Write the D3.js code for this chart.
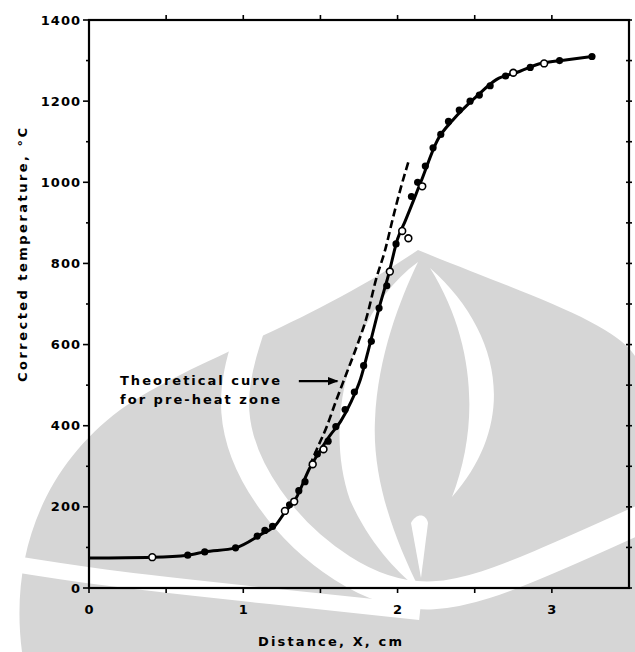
<!DOCTYPE html>
<html>
<head>
<meta charset="utf-8">
<script src="https://cdn.jsdelivr.net/npm/d3@7"></script>
<style>
  body { margin: 0; background: #fff; }
  text { font-family: "DejaVu Sans", sans-serif; font-weight: bold; fill: #000; }
</style>
</head>
<body>
<div id="chart"></div>
<script>
// experimental (fitted) curve through the measured points
const fitX = [0, 0.41, 0.64, 0.75, 0.95, 1.11, 1.21, 1.27, 1.34, 1.43, 1.50, 1.56, 1.63, 1.70, 1.76, 1.82, 1.88, 1.94, 2.00, 2.05, 2.15, 2.26, 2.36, 2.51, 2.64, 2.79, 2.92, 3.10, 3.26];
const fitT = [74, 76, 81, 89, 99, 131, 155, 187, 220, 295, 340, 375, 410, 460, 515, 600, 690, 770, 860, 905, 1000, 1105, 1154, 1211, 1253, 1273, 1292, 1302, 1310];

// theoretical curve for pre-heat zone (dashed)
const theoryX = [1.43, 1.48, 1.54, 1.60, 1.67, 1.74, 1.80, 1.86, 1.92, 1.97, 2.02, 2.07];
const theoryT = [300, 345, 397, 460, 530, 600, 668, 760, 834, 912, 985, 1050];

// measured points, filled and open markers
const obsX = [0.64, 0.75, 0.95, 1.09, 1.14, 1.19, 1.30, 1.36, 1.40, 1.48, 1.55, 1.60, 1.66, 1.72, 1.78, 1.83, 1.88, 1.93, 1.99, 2.09, 2.13, 2.18, 2.23, 2.28, 2.33, 2.40, 2.47, 2.53, 2.60, 2.70, 2.86, 3.05, 3.26];
const obsT = [81, 89, 99, 128, 142, 152, 205, 240, 262, 330, 362, 398, 440, 483, 548, 608, 690, 745, 848, 965, 1000, 1040, 1085, 1118, 1150, 1178, 1200, 1215, 1238, 1262, 1283, 1300, 1310];
const openX = [0.41, 1.27, 1.33, 1.45, 1.52, 1.95, 2.03, 2.07, 2.16, 2.75, 2.95];
const openT = [76, 190, 213, 305, 342, 780, 880, 862, 990, 1270, 1293];

// axis ticks
const xTicks = [0, 1, 2, 3];
const xMinor = [0.5, 1.5, 2.5];
const yTicks = [0, 200, 400, 600, 800, 1000, 1200, 1400];
const yMinor = [100, 300, 500, 700, 900, 1100, 1300];

// annotation: arrow start and tip (data coords)
const arrowFrom = [1.36, 510];
const arrowTo = [1.61, 510];

const W = 635, H = 652;
const x = d3.scaleLinear().domain([0, 3.5]).range([89, 629]);
const y = d3.scaleLinear().domain([0, 1400]).range([588, 20]);

const svg = d3.select("#chart").append("svg")
    .attr("width", W).attr("height", H);

// faint background watermark of the scanned page (page decoration, pixel space)
const wm = svg.append("g");
const band = d3.line().curve(d3.curveBasis);
wm.append("path").attr("fill", "#d6d6d6")
    .attr("d", "M22,652 C10,560 40,470 120,410 C190,360 300,330 418,250 C540,300 640,330 640,372 L640,652 Z");
wm.append("path").attr("fill", "none").attr("stroke", "#fff").attr("stroke-width", 28)
    .attr("d", band([[250, 330], [225, 410], [262, 500], [340, 575], [430, 608], [540, 565], [650, 515]]));
wm.append("path").attr("fill", "#fff")
    .attr("d", "M418,262 C352,310 322,420 350,500 C370,545 400,575 420,590 C395,540 372,480 375,420 C378,355 400,300 418,262 Z");
wm.append("path").attr("fill", "#fff")
    .attr("d", "M430,268 C500,330 520,420 452,497 C478,430 478,345 430,268 Z");
wm.append("path").attr("fill", "#fff")
    .attr("d", "M411,523 C416,513 426,513 428,523 L421,578 Z");
wm.append("path").attr("fill", "none").attr("stroke", "#fff").attr("stroke-width", 16)
    .attr("d", band([[-10, 560], [100, 578], [250, 594], [420, 612]]));

// frame
svg.append("rect")
    .attr("x", x(0)).attr("y", y(1400))
    .attr("width", x(3.5) - x(0)).attr("height", y(0) - y(1400))
    .attr("fill", "none").attr("stroke", "#000").attr("stroke-width", 2.2);

// ticks
const tickG = svg.append("g").attr("stroke", "#000").attr("stroke-width", 1.6);
tickG.selectAll(".xb").data(xTicks.concat(xMinor)).join("line")
    .attr("x1", d => x(d)).attr("x2", d => x(d))
    .attr("y1", y(0)).attr("y2", y(0) + 5);
tickG.selectAll(".xt").data(xTicks.concat(xMinor).filter(d => d > 0)).join("line")
    .attr("x1", d => x(d)).attr("x2", d => x(d))
    .attr("y1", y(1400)).attr("y2", y(1400) - 5);
tickG.selectAll(".yl").data(yTicks.concat(yMinor)).join("line")
    .attr("x1", x(0)).attr("x2", d => x(0) - (yTicks.includes(d) ? 6 : 3))
    .attr("y1", d => y(d)).attr("y2", d => y(d));
tickG.selectAll(".yr").data(yTicks.concat(yMinor)).join("line")
    .attr("x1", x(3.5) - 3).attr("x2", x(3.5) + 3)
    .attr("y1", d => y(d)).attr("y2", d => y(d));

// tick labels
svg.append("g").selectAll("text").data(yTicks).join("text")
    .attr("x", x(0) - 8).attr("y", d => y(d))
    .attr("text-anchor", "end").attr("dominant-baseline", "central")
    .style("font-size", "13px").style("letter-spacing", "1px")
    .text(d => d);
svg.append("g").selectAll("text").data(xTicks).join("text")
    .attr("x", d => x(d)).attr("y", y(0) + 26)
    .attr("text-anchor", "middle")
    .style("font-size", "13px")
    .text(d => d);

// axis titles
svg.append("text")
    .attr("x", 330).attr("y", 646)
    .attr("text-anchor", "middle")
    .attr("textLength", 144).attr("lengthAdjust", "spacing")
    .style("font-size", "13px")
    .text("Distance, X, cm");
svg.append("text")
    .attr("transform", "translate(27,255) rotate(-90)")
    .attr("text-anchor", "middle")
    .attr("textLength", 254).attr("lengthAdjust", "spacing")
    .style("font-size", "13px")
    .text("Corrected temperature, °C");

// curves
const line = d3.line().x(d => x(d[0])).y(d => y(d[1])).curve(d3.curveMonotoneX);
svg.append("path")
    .datum(fitX.map((d, i) => [d, fitT[i]]))
    .attr("d", line)
    .attr("fill", "none").attr("stroke", "#000").attr("stroke-width", 3);
svg.append("path")
    .datum(theoryX.map((d, i) => [d, theoryT[i]]))
    .attr("d", line)
    .attr("fill", "none").attr("stroke", "#000").attr("stroke-width", 2.6)
    .attr("stroke-dasharray", "8,4");

// markers
svg.append("g").selectAll("circle").data(obsX).join("circle")
    .attr("cx", d => x(d)).attr("cy", (d, i) => y(obsT[i]))
    .attr("r", 3.6).attr("fill", "#000");
svg.append("g").selectAll("circle").data(openX).join("circle")
    .attr("cx", d => x(d)).attr("cy", (d, i) => y(openT[i]))
    .attr("r", 3.4).attr("fill", "#fff").attr("stroke", "#000").attr("stroke-width", 1.6);

// annotation
svg.append("defs").append("marker")
    .attr("id", "arr").attr("viewBox", "0 0 10 10")
    .attr("refX", 9).attr("refY", 5)
    .attr("markerWidth", 5).attr("markerHeight", 5)
    .attr("orient", "auto")
    .append("path").attr("d", "M0,1 L10,5 L0,9 Z").attr("fill", "#000");
svg.append("line")
    .attr("x1", x(arrowFrom[0])).attr("y1", y(arrowFrom[1]))
    .attr("x2", x(arrowTo[0])).attr("y2", y(arrowTo[1]))
    .attr("stroke", "#000").attr("stroke-width", 2.2)
    .attr("marker-end", "url(#arr)");
const note = svg.append("text").style("font-size", "13px");
note.append("tspan").attr("x", 120).attr("y", 385)
    .attr("textLength", 160).attr("lengthAdjust", "spacing").text("Theoretical curve");
note.append("tspan").attr("x", 120).attr("y", 404)
    .attr("textLength", 160).attr("lengthAdjust", "spacing").text("for pre-heat zone");
</script>
</body>
</html>
